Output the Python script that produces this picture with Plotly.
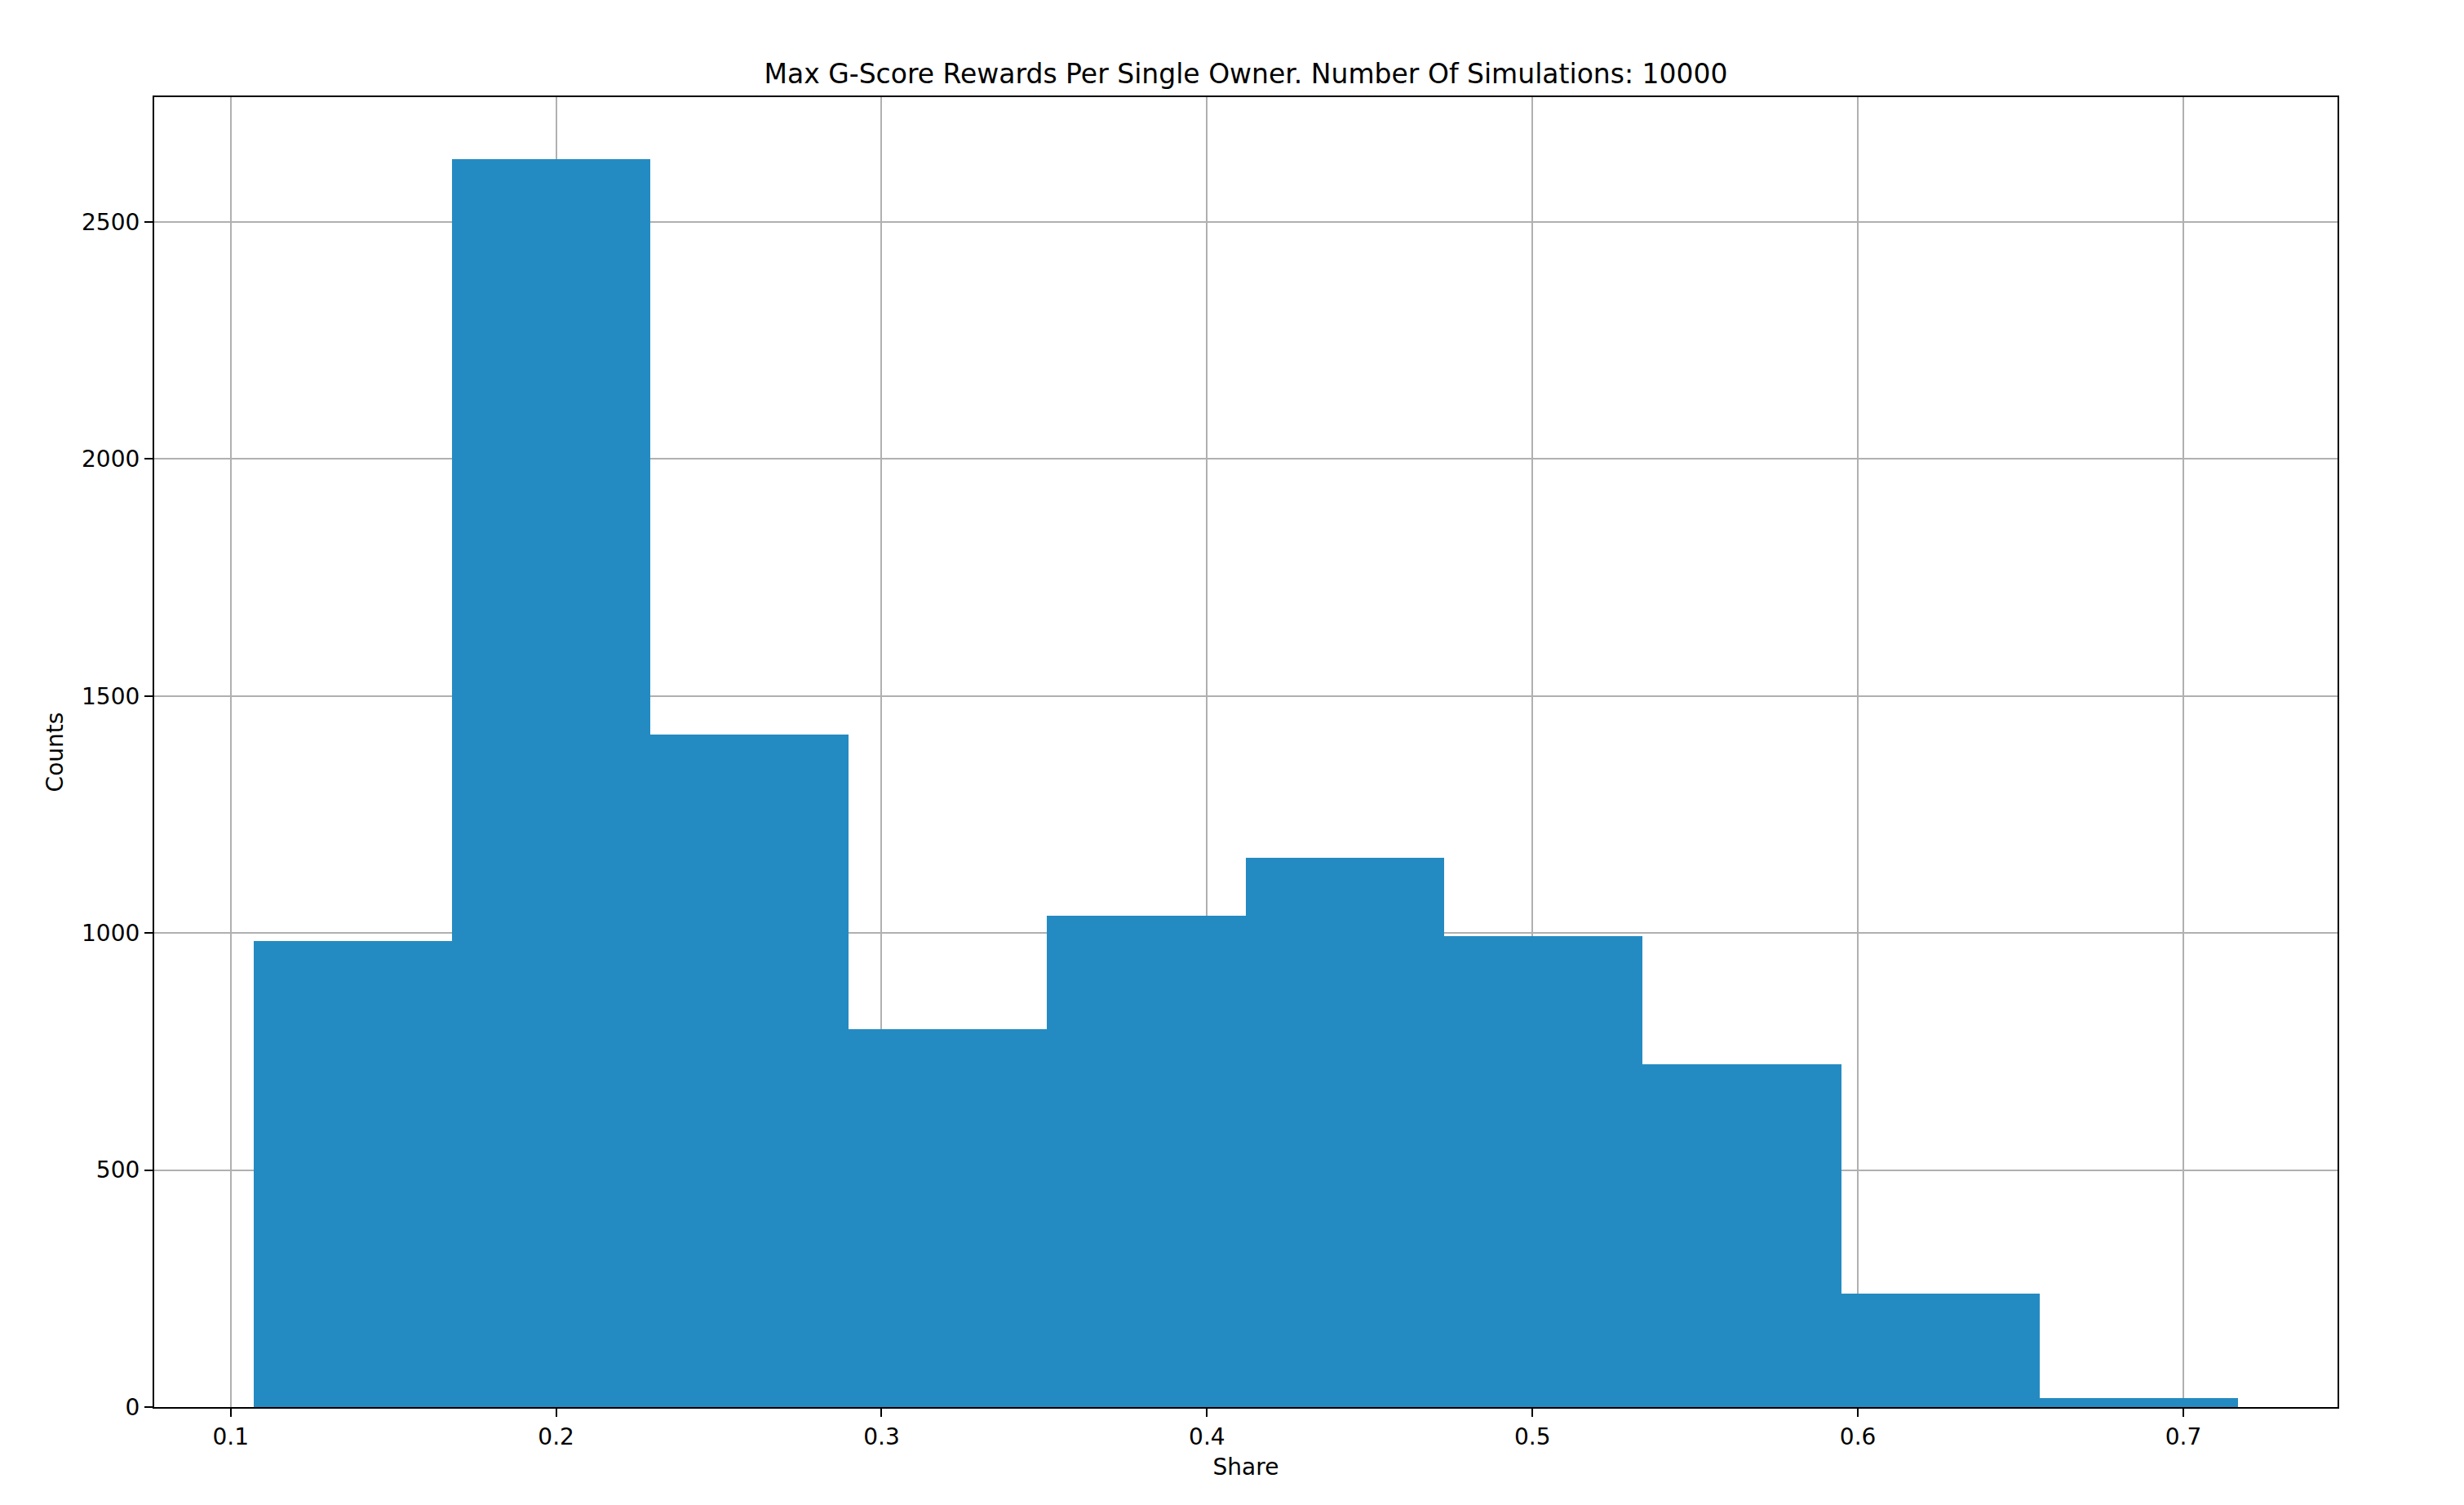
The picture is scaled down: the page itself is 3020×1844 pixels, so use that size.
import plotly.graph_objects as go

# Histogram bin edges (Share) and counts
bin_edges = [0.1070, 0.1680, 0.2290, 0.2899, 0.3509, 0.4119, 0.4729, 0.5339, 0.5949, 0.6559, 0.7169]
counts = [984, 2632, 1418, 797, 1036, 1158, 993, 723, 240, 19]

x_ticks = [0.1, 0.2, 0.3, 0.4, 0.5, 0.6, 0.7]
x_tick_labels = ["0.1", "0.2", "0.3", "0.4", "0.5", "0.6", "0.7"]
y_ticks = [0, 500, 1000, 1500, 2000, 2500]
y_tick_labels = ["0", "500", "1000", "1500", "2000", "2500"]

title_text = "Max G-Score Rewards Per Single Owner. Number Of Simulations: 10000"
x_label = "Share"
y_label = "Counts"

centers = [(a + b) / 2 for a, b in zip(bin_edges[:-1], bin_edges[1:])]
widths = [b - a for a, b in zip(bin_edges[:-1], bin_edges[1:])]

FONT = "DejaVu Sans"
W, H = 3020, 1844

fig = go.Figure(
    go.Bar(
        x=centers,
        y=counts,
        width=widths,
        marker=dict(color="#248bc2", line=dict(width=0)),
        hoverinfo="x+y",
    )
)

span = bin_edges[-1] - bin_edges[0]
xr = [bin_edges[0] - 0.05 * span, bin_edges[-1] + 0.05 * span]
yr = [0, max(counts) * 1.05]

axis_common = dict(
    showline=True,
    linecolor="black",
    linewidth=2.2,
    mirror=True,
    ticks="outside",
    ticklen=10,
    tickwidth=2.2,
    tickcolor="black",
    showgrid=True,
    gridcolor="#b0b0b0",
    gridwidth=2.2,
    zeroline=False,
    layer="above traces",
    tickfont=dict(family=FONT, size=28, color="black"),
    title_font=dict(family=FONT, size=28, color="black"),
)

fig.update_layout(
    width=W,
    height=H,
    paper_bgcolor="white",
    plot_bgcolor="white",
    margin=dict(l=181, r=163, t=111, b=128, autoexpand=False),
    showlegend=False,
    bargap=0,
    title=dict(
        text=title_text,
        font=dict(family=FONT, size=33, color="black"),
        x=0.5,
        xref="paper",
        xanchor="center",
        y=1 - 82 / H,
        yref="container",
        yanchor="middle",
    ),
    xaxis=dict(
        axis_common,
        range=xr,
        tickmode="array",
        tickvals=x_ticks,
        ticktext=x_tick_labels,
        title=dict(text=x_label, standoff=12),
    ),
    yaxis=dict(
        axis_common,
        range=yr,
        tickmode="array",
        tickvals=y_ticks,
        ticktext=y_tick_labels,
        title=dict(text=y_label, standoff=14),
    ),
)

fig.write_html("out.html")
